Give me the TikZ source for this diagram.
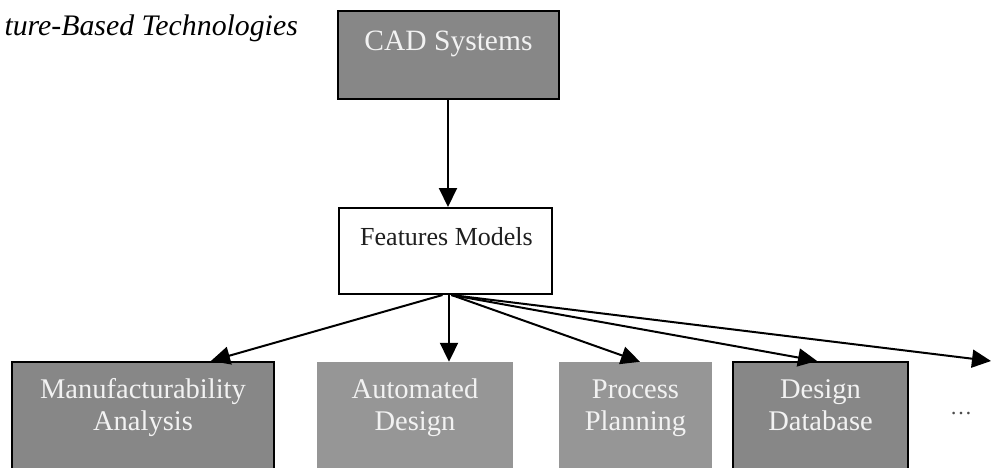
\documentclass[tikz,border=0pt]{standalone}
\usepackage{fontspec}
\setmainfont{Liberation Serif}
\usetikzlibrary{arrows.meta,calc}
\definecolor{boxgrey}{HTML}{878787}
\definecolor{lightgrey}{HTML}{969696}
\definecolor{boxtext}{HTML}{F2F2F2}
\tikzset{
  darkbox/.style={draw=black,line width=2.2pt,fill=boxgrey,rectangle,inner sep=0pt},
  lightbox/.style={draw=none,fill=lightgrey,rectangle,inner sep=0pt},
  whitebox/.style={draw=black,line width=2pt,fill=white,rectangle,inner sep=0pt},
  wtext/.style={text=boxtext,font=\fontsize{28.5}{32}\selectfont,inner sep=0pt,anchor=base},
  btext/.style={text=black!88,font=\fontsize{26}{30}\selectfont,inner sep=0pt,anchor=base},
  arr/.style={line width=2pt,-{Triangle[length=19pt,width=18pt]}}
}
\begin{document}
\begin{tikzpicture}[x=1pt,y=-1pt]
\clip (0,0) rectangle (991,467);
\fill[white] (0,0) rectangle (991,467);
% title
\node[font=\fontsize{29.8}{32}\selectfont\itshape,inner sep=0pt,anchor=base east] (title) at (298,35) {ture-Based Technologies};
% boxes
\node[darkbox,line width=2.5pt,minimum width=221pt,minimum height=88pt] (cad) at (448.5,55) {};
\node[whitebox,minimum width=213pt,minimum height=86pt] (feat) at (445.5,251) {};
\node[darkbox,minimum width=262pt,minimum height=115pt] (mfg) at (143,419.5) {};
\node[lightbox,minimum width=196pt,minimum height=115pt] (auto) at (415,419.5) {};
\node[lightbox,minimum width=153pt,minimum height=115pt] (proc) at (635.5,419.5) {};
\node[darkbox,minimum width=175pt,minimum height=115pt] (ddb) at (820.5,419.5) {};
% texts
\node[wtext,font=\fontsize{29.5}{32}\selectfont] (cadt) at (448.5,50) {CAD Systems};
\node[btext] (featt) at (446.5,245) {Features Models};
\node[wtext] (mfg1) at (143,398) {Manufacturability};
\node[wtext] (mfg2) at (143,430) {Analysis};
\node[wtext] (auto1) at (415,398) {Automated};
\node[wtext] (auto2) at (415,430) {Design};
\node[wtext] (proc1) at (635.5,398) {Process};
\node[wtext] (proc2) at (635.5,430) {Planning};
\node[wtext] (ddb1) at (820.5,398) {Design};
\node[wtext] (ddb2) at (820.5,430) {Database};
\node[inner sep=0pt,font=\fontsize{22}{24}\selectfont,text=black!70] (dots) at (961,414) {\dots};
\coordinate (more) at (991,361);
% connectors
\draw[arr] ($(cad.south)+(-0.5,0)$) -- ($(feat.north)+(2.5,0)$);
\draw[arr] ($(feat.south)+(-3,0)$) -- ($(mfg.north)+(68,0)$);
\draw[arr] ($(feat.south)+(3.5,0)$) -- ($(auto.north)+(34,0)$);
\draw[arr] ($(feat.south)+(6,0)$) -- ($(proc.north)+(4.5,0)$);
\draw[arr] ($(feat.south)+(6,0)$) -- ($(ddb.north)+(-3.5,0)$);
\draw[arr] ($(feat.south)+(6,0)$) -- (more);
\end{tikzpicture}
\end{document}
